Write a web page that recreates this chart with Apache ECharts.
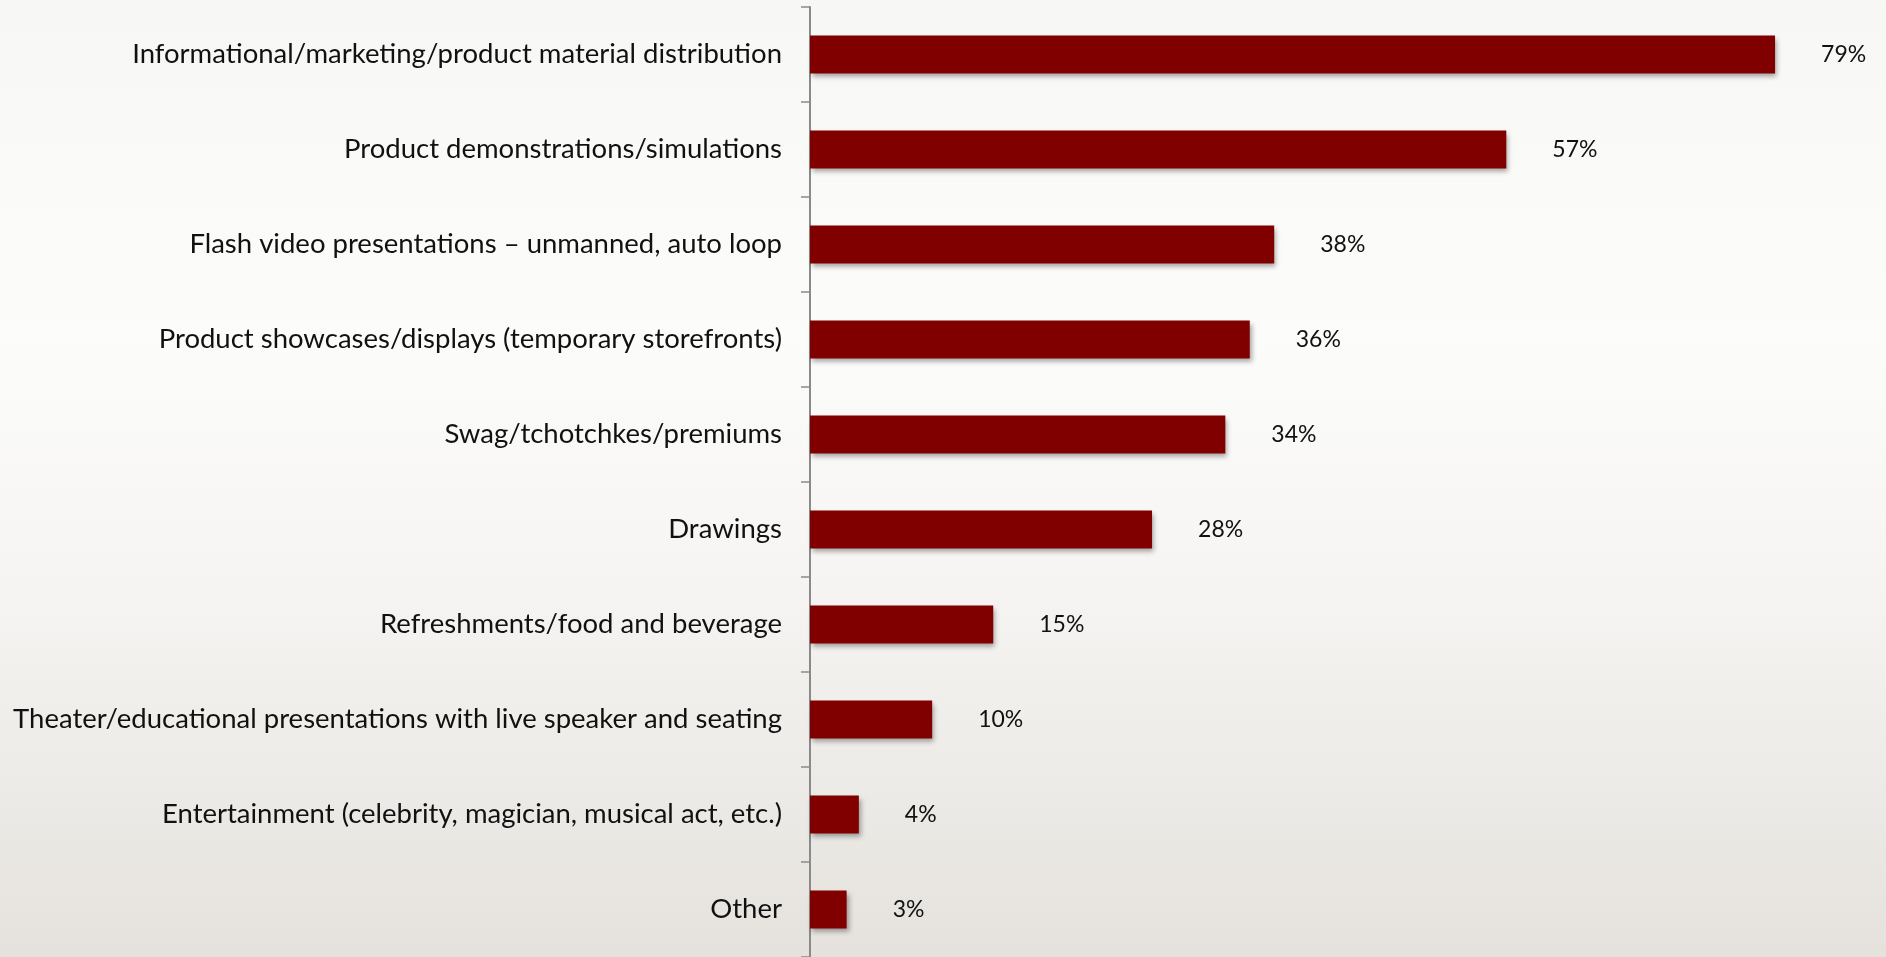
<!DOCTYPE html>
<html>
<head>
<meta charset="utf-8">
<script src="https://cdn.jsdelivr.net/npm/echarts@6/dist/echarts.min.js"></script>
<style>
html,body{margin:0;padding:0;width:1886px;height:957px;overflow:hidden;}
#chart{width:1886px;height:957px;}
</style>
</head>
<body>
<div id="chart"></div>
<script>
const categories = [
  "Informational/marketing/product material distribution",
  "Product demonstrations/simulations",
  "Flash video presentations \u2013 unmanned, auto loop",
  "Product showcases/displays (temporary storefronts)",
  "Swag/tchotchkes/premiums",
  "Drawings",
  "Refreshments/food and beverage",
  "Theater/educational presentations with live speaker and seating",
  "Entertainment (celebrity, magician, musical act, etc.)",
  "Other"
];
const values = [79, 57, 38, 36, 34, 28, 15, 10, 4, 3];

const chart = echarts.init(document.getElementById('chart'), null, {renderer: 'canvas'});
chart.setOption({
  animation: false,
  backgroundColor: {
    type: 'linear', x: 0, y: 0, x2: 0, y2: 1,
    colorStops: [
      {offset: 0, color: '#f7f7f5'},
      {offset: 0.35, color: '#fcfcfb'},
      {offset: 0.6, color: '#f6f5f3'},
      {offset: 1, color: '#e5e2dd'}
    ]
  },
  grid: {left: 810, top: 7, right: 1, bottom: -1, containLabel: false},
  xAxis: {
    type: 'value', min: 0, max: 88, show: false
  },
  yAxis: {
    type: 'category',
    data: categories,
    inverse: true,
    axisLine: {show: true, lineStyle: {color: '#8a8a8a', width: 2}},
    axisTick: {show: true, length: 9, lineStyle: {color: '#8a8a8a', width: 1.5}},
    axisLabel: {
      margin: 28,
      fontFamily: 'Lato',
      fontSize: 27.5,
      color: '#111'
    },
    splitLine: {show: false}
  },
  series: [{
    type: 'bar',
    data: values,
    barCategoryGap: '60%',
    itemStyle: {
      color: '#800000',
      shadowColor: 'rgba(0,0,0,0.35)',
      shadowBlur: 5,
      shadowOffsetX: 2,
      shadowOffsetY: 3
    },
    label: {
      show: true,
      position: 'right',
      distance: 46,
      formatter: p => p.value + '%',
      fontFamily: 'Lato',
      fontSize: 23,
      color: '#111'
    }
  }]
});
</script>
</body>
</html>
